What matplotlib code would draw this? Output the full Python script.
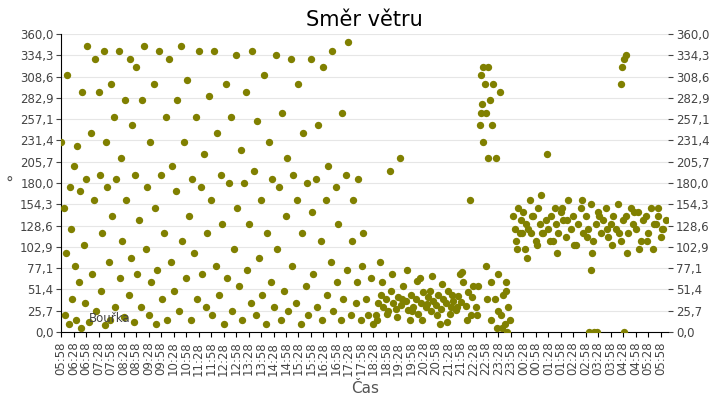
import numpy as np
import matplotlib.pyplot as plt
from matplotlib.ticker import FuncFormatter

# hours since 05:58
t1 = [0.0, 0.1, 0.15, 0.2, 0.25, 0.3, 0.35, 0.4, 0.45, 0.5, 0.55, 0.6, 0.65, 0.7, 0.75, 0.8, 0.85, 0.9, 0.95, 1.0,
      1.05, 1.1, 1.2, 1.25, 1.3, 1.35, 1.4, 1.5, 1.55, 1.6, 1.65, 1.7, 1.75, 1.8, 1.85, 1.9, 1.95, 2.0, 2.05, 2.1,
      2.15, 2.2, 2.3, 2.35, 2.4, 2.45, 2.5, 2.55, 2.6, 2.7, 2.75, 2.8, 2.85, 2.9, 2.95, 3.0, 3.05, 3.1, 3.2, 3.25,
      3.3, 3.4, 3.45, 3.5, 3.55, 3.6, 3.7, 3.75, 3.8, 3.85, 3.9, 4.0, 4.05, 4.1, 4.2, 4.25, 4.3, 4.4, 4.45, 4.5,
      4.6, 4.65, 4.7, 4.8, 4.85, 4.9, 5.0, 5.05, 5.1, 5.2, 5.25, 5.3, 5.4, 5.45, 5.5, 5.6, 5.65, 5.7, 5.8, 5.85,
      5.9, 6.0, 6.05, 6.1, 6.2, 6.25, 6.3, 6.4, 6.45, 6.5, 6.6, 6.65, 6.7, 6.8, 6.85, 6.9, 7.0, 7.05, 7.1, 7.2,
      7.25, 7.3, 7.4, 7.45, 7.5, 7.6, 7.65, 7.7, 7.8, 7.85, 7.9, 8.0, 8.05, 8.1, 8.2, 8.25, 8.3, 8.4, 8.45, 8.5,
      8.6, 8.65, 8.7, 8.8, 8.85, 8.9, 9.0, 9.05, 9.1, 9.2, 9.25, 9.3, 9.4, 9.45, 9.5, 9.6, 9.65, 9.7, 9.8, 9.85,
      9.9, 10.0, 10.05, 10.1, 10.2, 10.25, 10.3, 10.4, 10.45, 10.5, 10.6, 10.65, 10.7, 10.8, 10.85, 10.9, 11.0, 11.05, 11.1, 11.2,
      11.25, 11.3, 11.4, 11.45, 11.5, 11.6, 11.65, 11.7, 11.8, 11.85, 11.9, 12.0, 12.05, 12.1, 12.2, 12.3, 12.4, 12.5]
v1 = [230, 150, 20, 95, 310, 10, 175, 125, 40, 200, 80, 15, 225, 60, 170, 5, 290, 105, 35, 185,
      345, 12, 240, 70, 160, 330, 25, 290, 190, 50, 120, 340, 8, 230, 175, 85, 15, 300, 140, 260,
      30, 185, 340, 65, 210, 110, 18, 280, 160, 45, 330, 90, 250, 12, 190, 320, 70, 135, 30, 280,
      345, 100, 175, 20, 230, 60, 300, 150, 10, 75, 340, 190, 40, 120, 260, 15, 330, 85, 200, 50,
      170, 280, 25, 345, 110, 230, 65, 305, 140, 15, 185, 95, 260, 40, 340, 175, 70, 215, 30, 120,
      285, 160, 20, 340, 80, 240, 45, 190, 130, 10, 300, 65, 180, 260, 25, 100, 335, 150, 55, 220,
      15, 180, 290, 75, 130, 35, 340, 195, 20, 255, 90, 160, 45, 310, 10, 120, 230, 60, 185, 30,
      335, 100, 175, 15, 265, 50, 140, 210, 25, 330, 80, 190, 35, 160, 300, 10, 120, 240, 55, 180,
      20, 330, 145, 70, 185, 30, 250, 110, 15, 320, 160, 45, 200, 85, 340, 25, 175, 60, 130, 15,
      265, 40, 190, 75, 350, 20, 110, 160, 35, 60, 185, 15, 80, 120, 40, 20, 65, 10]
t2 = [12.6, 12.7, 12.8, 12.9, 13.0, 13.1, 13.2, 13.3, 13.4, 13.5, 13.6, 13.7, 13.8, 13.9, 14.0, 14.1, 14.2, 14.3, 14.4, 14.5,
      14.6, 14.7, 14.8, 14.9, 15.0, 15.1, 15.2, 15.3, 15.4, 15.5, 15.6, 15.7, 15.8, 15.9, 16.0, 16.1, 16.2, 16.3, 16.4, 16.5,
      12.65, 12.85, 13.05, 13.25, 13.45, 13.65, 13.85, 14.05, 14.25, 14.45, 14.65, 14.85, 15.05, 15.25, 15.45, 15.65, 15.85, 16.05, 16.25, 16.45,
      12.75, 13.15, 13.55, 13.95, 14.35, 14.75, 15.15, 15.55, 15.95, 16.35]
v2 = [20, 35, 45, 30, 40, 25, 50, 35, 28, 42, 33, 55, 38, 26, 45, 30, 40, 22, 35, 48,
      30, 42, 25, 38, 33, 45, 28, 40, 35, 50, 30, 38, 27, 44, 36, 60, 32, 48, 20, 55,
      15, 60, 22, 70, 18, 40, 75, 25, 62, 15, 34, 68, 20, 58, 12, 45, 30, 72, 15, 42,
      85, 195, 210, 15, 65, 50, 10, 22, 70, 160]
t3 = [16.6, 16.7, 16.75, 16.8, 16.85, 16.9, 16.95, 17.0, 17.05, 17.1, 17.15, 17.2, 17.25, 17.3, 17.4, 17.45, 17.5, 17.55, 17.6, 17.7,
      17.75, 17.8, 17.85, 17.9, 17.95, 16.65, 16.8, 16.9, 17.0, 17.1, 17.2, 17.35, 17.5, 17.65, 17.8]
v3 = [30, 55, 250, 310, 275, 230, 300, 265, 40, 320, 280, 15, 250, 300, 210, 5, 70, 290, 20, 45,
      10, 50, 0, 30, 15, 20, 265, 320, 80, 210, 60, 40, 25, 5, 60]
t4 = [18.1, 18.15, 18.2, 18.3, 18.35, 18.4, 18.5, 18.55, 18.6, 18.7, 18.75, 18.8, 18.9, 19.0, 19.1, 19.15, 19.2, 19.3, 19.4, 19.45,
      19.5, 19.6, 19.7, 19.75, 19.8, 19.9, 20.0, 20.1, 20.2, 20.3, 20.4, 20.5, 20.6, 20.7, 20.8, 20.9, 21.0, 21.1, 21.2, 21.3,
      21.4, 21.5, 21.6, 21.7, 21.8, 21.9, 22.0, 22.1, 22.2, 22.3, 22.4, 22.5, 22.6, 22.7, 22.8, 22.9, 23.0, 23.1, 23.2, 23.3,
      23.4, 23.5, 23.6, 23.7, 23.8, 23.9, 24.0, 24.1, 24.2,
      18.25, 18.45, 18.65, 18.85, 19.05, 19.25, 19.55, 19.85, 20.05, 20.25, 20.55, 20.85, 21.05, 21.25, 21.55, 21.85, 22.05, 22.35, 22.65, 22.95,
      23.15, 23.45, 23.75, 24.05, 21.15, 21.45, 21.35, 21.2, 22.45, 22.55, 22.6, 22.4, 22.55, 23.9]
v4 = [140, 125, 110, 150, 120, 135, 145, 100, 130, 125, 160, 120, 140, 110, 150, 130, 165, 120, 135, 215,
      125, 140, 110, 150, 130, 120, 145, 135, 115, 160, 125, 140, 105, 130, 150, 120, 140, 125, 155, 110,
      130, 145, 120, 135, 150, 115, 130, 140, 125, 155, 110, 135, 140, 120, 150, 130, 125, 145, 110, 135,
      140, 120, 150, 100, 130, 140, 115, 125, 135,
      100, 120, 90, 140, 105, 120, 110, 95, 150, 135, 105, 160, 115, 95, 140, 125, 105, 120, 95, 145,
      100, 110, 130, 125, 0, 0, 0, 75, 320, 330, 335, 300, 0, 150]

times = np.array(t1 + t2 + t3 + t4)
values = np.array(v1 + v2 + v3 + v4)

tick_labels = []
for i in range(49):
    m = (5 * 60 + 58 + 30 * i) % (24 * 60)
    tick_labels.append('%02d:%02d' % (m // 60, m % 60))
yticks = [360 / 14 * i for i in range(15)]

fig, ax = plt.subplots(figsize=(7.2, 4.0), dpi=100)
fig.subplots_adjust(left=0.085, right=0.928, top=0.915, bottom=0.17)
ax.scatter(times, values, s=28, color='#808000', zorder=3, linewidths=0)

ax.set_xlim(0, 24.3)
ax.set_ylim(0, 360)
ax.set_xticks(np.arange(49) * 0.5)
ax.set_xticklabels(tick_labels, rotation=90, fontsize=8.5, color='#444444')
ax.set_yticks(yticks)
fmt = FuncFormatter(lambda v, p: ('%.1f' % v).replace('.', ','))
ax.yaxis.set_major_formatter(fmt)
ax.tick_params(axis='y', labelsize=8.5, colors='#444444', right=True, labelright=True, pad=2)
ax.grid(axis='y', color='#e6e6e6', linewidth=0.8)
ax.set_axisbelow(True)
for s in ['top', 'right']:
    ax.spines[s].set_visible(False)
ax.set_title('Směr větru', fontsize=15)
ax.set_xlabel('Čas', fontsize=11, color='#555555')
ax.set_ylabel('°', fontsize=11, color='#555555', rotation=0, ha='center', va='center')
ax.yaxis.set_label_coords(-0.085, 0.5)
ax.text(1.1, 12, 'Bouřka', fontsize=8.5, color='#444444')

fig.savefig('out.png')
